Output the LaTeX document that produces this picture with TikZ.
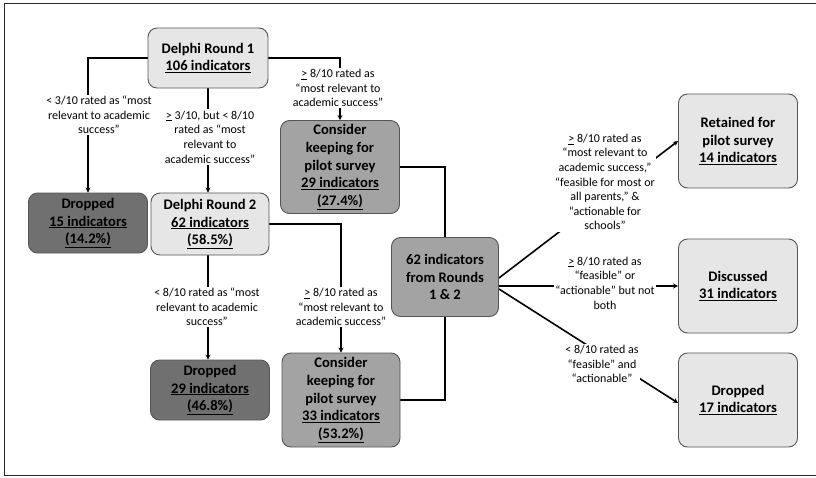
\documentclass[tikz,border=0pt]{standalone}
\usepackage{fontspec}
\setmainfont{Carlito}
\usetikzlibrary{arrows.meta,backgrounds}
\definecolor{boxlight}{HTML}{E6E6E6}
\definecolor{boxmid}{HTML}{A3A3A3}
\definecolor{boxdark}{HTML}{707070}
\definecolor{bordergray}{HTML}{555555}
\tikzset{
  box/.style={draw=bordergray, line width=0.9pt, rounded corners=9pt, align=center,
    font=\bfseries\fontsize{14.6}{17.6}\selectfont, text=black, inner sep=2pt},
  light/.style={box, fill=boxlight},
  mid/.style={box, fill=boxmid},
  dark/.style={box, fill=boxdark},
  lbl/.style={fill=white, align=center, font=\fontsize{12}{14.6}\selectfont, inner sep=1.5pt, text=black},
  conn/.style={line width=1.6pt, black},
  arr/.style={conn, -{Stealth[length=5pt,width=5pt]}},
  frame/.style={line width=1.3pt, black!85}
}
\begin{document}
\begin{tikzpicture}[x=1pt,y=-1pt]
\useasboundingbox (0,0) rectangle (816,477);
\draw[frame] (817,3.5) -| (4.5,475.5) -- (817,475.5);

% boxes
\node[light, minimum width=120, minimum height=60] (r1) at (208,58) {Delphi Round 1\\\underline{106 indicators}};
\node[dark, minimum width=119, minimum height=60] (d15) at (88,223) {Dropped\\\underline{15 indicators}\\\underline{(14.2\%)}};
\node[light, minimum width=118, minimum height=62] (r2) at (210,224) {Delphi Round 2\\\underline{62 indicators}\\\underline{(58.5\%)}};
\node[mid, minimum width=119, minimum height=93] (c29) at (340,167) {Consider\\keeping for\\pilot survey\\\underline{29 indicators}\\\underline{(27.4\%)}};
\node[dark, minimum width=119, minimum height=60] (d29) at (210,390) {Dropped\\\underline{29 indicators}\\\underline{(46.8\%)}};
\node[mid, minimum width=118, minimum height=94] (c33) at (341,400) {Consider\\keeping for\\pilot survey\\\underline{33 indicators}\\\underline{(53.2\%)}};
\node[mid, minimum width=107, minimum height=79] (n62) at (445,277) {62 indicators\\from Rounds\\1 \& 2};
\node[light, minimum width=119, minimum height=94] (ret) at (738,141) {Retained for\\pilot survey\\\underline{14 indicators}};
\node[light, minimum width=119, minimum height=94] (dis) at (738,286) {Discussed\\\underline{31 indicators}};
\node[light, minimum width=119, minimum height=94] (d17) at (738,400) {Dropped\\\underline{17 indicators}};

% labels
\node[lbl] (l1) at (99,115) {< 3/10 rated as “most\\relevant to academic\\success”};
\node[lbl] (l2) at (210,137) {\underline{>} 3/10, but < 8/10\\rated as “most\\relevant to\\academic success”};
\node[lbl] (l3) at (338,88) {\underline{>} 8/10 rated as\\“most relevant to\\academic success”};
\node[lbl] (l4) at (207,307) {< 8/10 rated as “most\\relevant to academic\\success”};
\node[lbl] (l5) at (341,307) {\underline{>} 8/10 rated as\\“most relevant to\\academic success”};
\node[lbl] (l6) at (605,182) {\underline{>} 8/10 rated as\\“most relevant to\\academic success,”\\“feasible for most or\\all parents,” \&\\“actionable for\\schools”};
\node[lbl] (l7) at (605,283) {\underline{>} 8/10 rated as\\“feasible” or\\“actionable” but not\\both};
\node[lbl] (l8) at (602,364) {< 8/10 rated as\\“feasible” and\\“actionable”};

% connectors
\begin{scope}[on background layer]
\draw[arr] (r1.west) -| (d15.north);
\draw[arr] (r1.south) -- (r1.south |- r2.north);
\draw[arr] (r1.east) -| (c29.north);
\draw[arr] (r1.south |- r2.south) -- (r1.south |- d29.north);
\draw[arr] (r2.east) -| (c33.north);
\draw[conn] (c29.east) -| (n62.north);
\draw[conn] (c33.east) -| (n62.south);
\draw[arr] ([yshift=-1pt]n62.east) -- (ret.west);
\draw[arr] (n62.east |- dis.west) -- (dis.west);
\draw[arr] ([yshift=-12pt]n62.east) -- ([yshift=-3pt]d17.west);
\end{scope}
\end{tikzpicture}
\end{document}
